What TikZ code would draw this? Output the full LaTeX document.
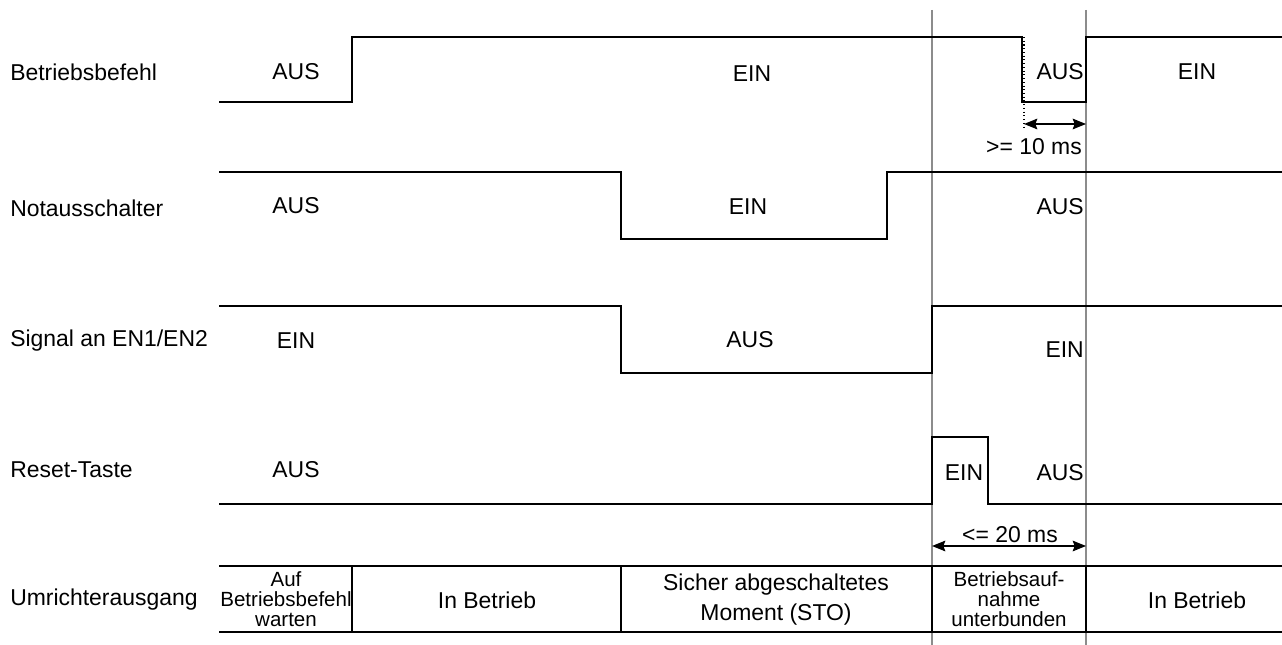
\documentclass[tikz,border=0pt]{standalone}
\usepackage{fontspec}
\setmainfont{Liberation Sans}
\usetikzlibrary{arrows.meta}
\begin{document}
\begin{tikzpicture}[x=0.75pt,y=-0.75pt,
  sig/.style={line width=1.1pt,black,line join=miter},
  grid/.style={line width=0.8pt,black!45},
  tbl/.style={line width=1.1pt,black},
  lbl/.style={font=\fontsize{17.2}{20}\selectfont,inner sep=0pt},
  rowlbl/.style={lbl,anchor=west},
  small/.style={font=\fontsize{15.4}{15}\selectfont,inner sep=0pt,align=center},
  big2/.style={font=\fontsize{17.2}{22.5}\selectfont,inner sep=0pt,align=center},
  dim/.style={line width=1pt,{Stealth[length=10pt,width=8pt,inset=1.5pt]}-{Stealth[length=10pt,width=8pt,inset=1.5pt]}}
]
\useasboundingbox (0,0) rectangle (1282,645);

% gray guide lines
\coordinate (g1t) at (932,10); \coordinate (g1b) at (932,645);
\coordinate (g2t) at (1086,10); \coordinate (g2b) at (1086,645);
\draw[grid] (g1t) -- (g1b);
\draw[grid] (g2t) -- (g2b);

% row labels
\node[rowlbl] (l1) at (10,72) {Betriebsbefehl};
\node[rowlbl] (l2) at (10,208) {Notausschalter};
\node[rowlbl] (l3) at (10,341) {Signal an EN1/EN2};
\node[rowlbl] (l4) at (10,470) {Reset-Taste};
\node[rowlbl] (l5) at (10,600) {Umrichterausgang};

% Betriebsbefehl
\draw[sig] (219,102) -- (352,102) -- (352,37) -- (1022,37) -- (1022,102) -- (1086,102) -- (1086,37) -- (1282,37);
\node[lbl] (b1) at (296,72) {AUS};
\node[lbl] (b2) at (752,74) {EIN};
\node[lbl,anchor=east] (b3) at (1084,72) {AUS};
\node[lbl] (b4) at (1197,72) {EIN};
\coordinate (d1t) at (1024,37); \coordinate (d1b) at (1024,130);
\draw[line width=0.8pt,dotted] (d1t) -- (d1b);
\coordinate (a1l) at (1024,124); \coordinate (a1r) at (1086,124);
\draw[dim] (a1l) -- (a1r);
\node[lbl] (t1) at (1034,147) {>= 10 ms};

% Notausschalter
\draw[sig] (219,172) -- (621,172) -- (621,239) -- (887,239) -- (887,172) -- (1282,172);
\node[lbl] (n1) at (296,206) {AUS};
\node[lbl] (n2) at (748,207) {EIN};
\node[lbl,anchor=east] (n3) at (1084,207) {AUS};

% Signal an EN1/EN2
\draw[sig] (219,306) -- (621,306) -- (621,373) -- (932,373) -- (932,306) -- (1282,306);
\node[lbl] (s1) at (296,341) {EIN};
\node[lbl] (s2) at (750,340) {AUS};
\node[lbl,anchor=east] (s3) at (1084,350) {EIN};

% Reset-Taste
\draw[sig] (219,504) -- (932,504) -- (932,437) -- (988,437) -- (988,504) -- (1282,504);
\node[lbl] (r1) at (296,470) {AUS};
\node[lbl] (r2) at (964,473) {EIN};
\node[lbl,anchor=east] (r3) at (1084,473) {AUS};
\coordinate (a2l) at (932,546); \coordinate (a2r) at (1086,546);
\draw[dim] (a2l) -- (a2r);
\node[lbl] (t2) at (1010,535) {<= 20 ms};

% Umrichterausgang table
\draw[tbl] (219,566) -- (1282,566);
\draw[tbl] (219,632) -- (1282,632);
\foreach \xx in {352,621,932,1086} \draw[tbl] (\xx,566) -- (\xx,632);
\node[small] (u1) at (286,599) {Auf\\Betriebsbefehl\\warten};
\node[lbl] (u2) at (487,600) {In Betrieb};
\node[big2] (u3) at (776,600) {Sicher abgeschaltetes\\Moment (STO)};
\node[small] (u4) at (1009,599) {Betriebsauf-\\nahme\\unterbunden};
\node[lbl] (u5) at (1197,600) {In Betrieb};
\end{tikzpicture}
\end{document}
